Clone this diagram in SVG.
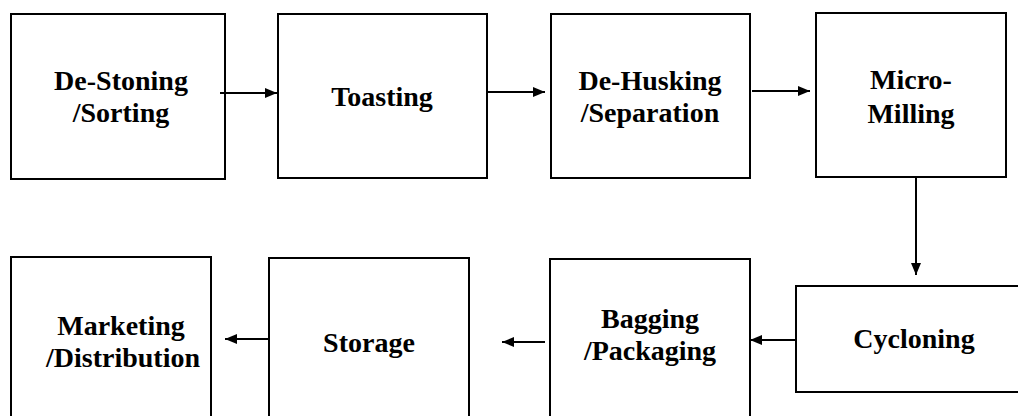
<svg xmlns="http://www.w3.org/2000/svg" width="1018" height="416" viewBox="0 0 1018 416">
<style>
.box{fill:#fff;stroke:#000;stroke-width:2}
.lbl{font-weight:bold;font-size:28px;fill:#000;text-anchor:middle}
.con{stroke:#000;stroke-width:2;fill:none}
</style>
<defs>
<marker id="ah" markerUnits="userSpaceOnUse" markerWidth="12" markerHeight="10" refX="12" refY="5" orient="auto">
<path d="M0,0 L12,5 L0,10 z" fill="#000"/>
</marker>
</defs>
<rect width="1018" height="416" fill="#fff"/>
<g font-family="Liberation Serif, serif">
<g id="destoning">
<rect class="box" x="11" y="14" width="214" height="165"/>
<text class="lbl" x="121" y="90">De-Stoning</text>
<text class="lbl" x="121" y="122">/Sorting</text>
</g>
<g id="toasting">
<rect class="box" x="278" y="14" width="209" height="164"/>
<text class="lbl" x="382" y="106">Toasting</text>
</g>
<g id="dehusking">
<rect class="box" x="551" y="14" width="199" height="164"/>
<text class="lbl" x="650" y="90">De-Husking</text>
<text class="lbl" x="650" y="122">/Separation</text>
</g>
<g id="micromilling">
<rect class="box" x="816" y="13" width="190" height="164"/>
<text class="lbl" x="911" y="89">Micro-</text>
<text class="lbl" x="911" y="123">Milling</text>
</g>
<g id="cycloning">
<rect class="box" x="796" y="286" width="240" height="106"/>
<text class="lbl" x="914" y="348">Cycloning</text>
</g>
<g id="bagging">
<rect class="box" x="550" y="259" width="200" height="180"/>
<text class="lbl" x="650" y="328">Bagging</text>
<text class="lbl" x="650" y="360">/Packaging</text>
</g>
<g id="storage">
<rect class="box" x="269" y="258" width="200" height="180"/>
<text class="lbl" x="369" y="352">Storage</text>
</g>
<g id="marketing">
<rect class="box" x="11" y="257" width="200" height="180"/>
<text class="lbl" x="121" y="335">Marketing</text>
<text class="lbl" x="123" y="367">/Distribution</text>
</g>
</g>
<g id="connectors">
<line class="con" x1="220" y1="93" x2="277" y2="93" marker-end="url(#ah)"/>
<line class="con" x1="487" y1="92" x2="545" y2="92" marker-end="url(#ah)"/>
<line class="con" x1="752" y1="91" x2="810" y2="91" marker-end="url(#ah)"/>
<line class="con" x1="916" y1="177" x2="916" y2="275" marker-end="url(#ah)"/>
<line class="con" x1="796" y1="340" x2="750" y2="340" marker-end="url(#ah)"/>
<line class="con" x1="545" y1="342" x2="502" y2="342" marker-end="url(#ah)"/>
<line class="con" x1="269" y1="339" x2="225" y2="339" marker-end="url(#ah)"/>
</g>
</svg>
